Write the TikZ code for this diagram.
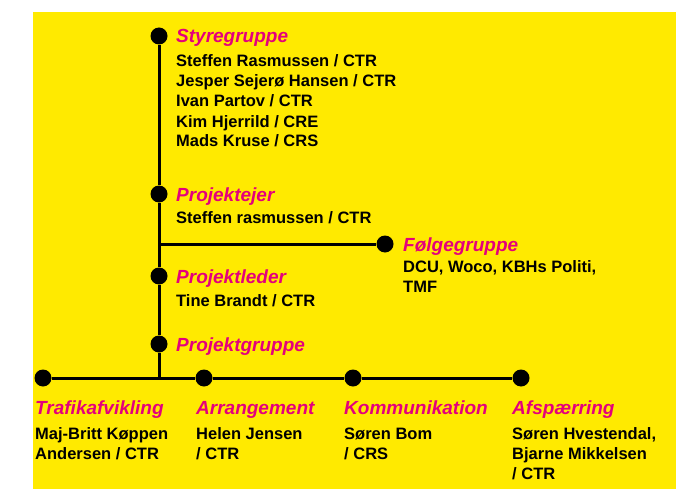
\documentclass[tikz,border=0pt]{standalone}
\usepackage{fontspec}
\setmainfont{Liberation Sans}
\definecolor{bgyellow}{HTML}{FFEA00}
\definecolor{titlepink}{HTML}{E4007C}
\begin{document}
\begin{tikzpicture}[x=1pt,y=-1pt,
  orgdot/.style={circle,fill=black,inner sep=0pt,minimum size=17pt},
  conn/.style={line width=3pt},
  ttl/.style={font=\fontsize{19}{22}\selectfont\bfseries\itshape,text=titlepink,anchor=base west,inner sep=0pt},
  body/.style={font=\fontsize{16.5}{20}\selectfont\bfseries,anchor=base west,inner sep=0pt,align=left}]
\useasboundingbox (0,0) rectangle (687,489);
\fill[bgyellow] (33,12) rectangle (676,489);
% dots
\node[orgdot] (sty) at (159,36) {};
\node[orgdot] (pej) at (159,194) {};
\node[orgdot] (pld) at (159,276) {};
\node[orgdot] (pgr) at (159,344) {};
\node[orgdot] (fol) at (385,244) {};
\coordinate (jf) at (159,244);
\coordinate (jb) at (159,378);
\node[orgdot] (tra) at (43,378) {};
\node[orgdot] (arr) at (204,378) {};
\node[orgdot] (kom) at (353,378) {};
\node[orgdot] (afs) at (521,378) {};
% connectors
\draw[conn] (sty) -- (pej);
\draw[conn] (pej) -- (pld);
\draw[conn] (pld) -- (pgr);
\draw[conn] (pgr) -- (jb);
\draw[conn] (jf) -- (fol);
\draw[conn] (tra) -- (arr);
\draw[conn] (arr) -- (kom);
\draw[conn] (kom) -- (afs);
% labels (base anchor of a multi-line node = baseline of its last line)
\node[ttl] (styT) at (176,43) {Styregruppe};
\node[body] (styB) at (176,147) {Steffen Rasmussen / CTR\\Jesper Sejerø Hansen / CTR\\Ivan Partov / CTR\\Kim Hjerrild / CRE\\Mads Kruse / CRS};
\node[ttl] (pejT) at (176,201) {Projektejer};
\node[body] (pejB) at (176,223) {Steffen rasmussen / CTR};
\node[ttl] (folT) at (403,251) {Følgegruppe};
\node[body] (folB) at (403,292) {DCU, Woco, KBHs Politi,\\TMF};
\node[ttl] (pldT) at (176,283) {Projektleder};
\node[body] (pldB) at (176,306) {Tine Brandt / CTR};
\node[ttl] (pgrT) at (176,351) {Projektgruppe};
\node[ttl] (traT) at (35,414) {Trafikafvikling};
\node[body] (traB) at (35,459) {Maj-Britt Køppen\\Andersen / CTR};
\node[ttl] (arrT) at (196,414) {Arrangement};
\node[body] (arrB) at (196,459) {Helen Jensen\\/ CTR};
\node[ttl] (komT) at (344,414) {Kommunikation};
\node[body] (komB) at (344,459) {Søren Bom\\/ CRS};
\node[ttl] (afsT) at (512,414) {Afspærring};
\node[body] (afsB) at (512,479) {Søren Hvestendal,\\Bjarne Mikkelsen\\/ CTR};
\end{tikzpicture}
\end{document}
